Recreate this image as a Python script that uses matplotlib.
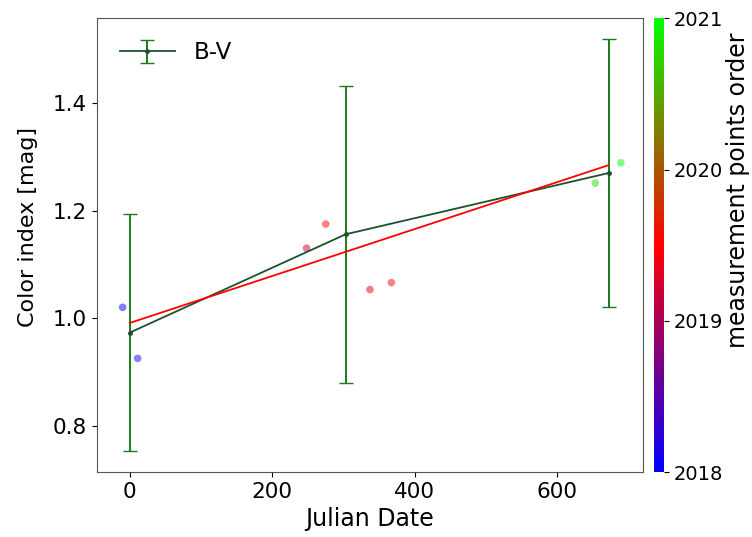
import numpy as np
import matplotlib
matplotlib.use("Agg")
import matplotlib.pyplot as plt

# Error-bar series (B-V)
bv_x = [0, 303, 672]
bv_y = [0.973, 1.156, 1.270]
bv_err = [0.22, 0.276, 0.249]

# Individual measurement points
pts_x = [-10, 11, 248, 275, 337, 367, 653, 689]
pts_y = [1.020, 0.925, 1.130, 1.175, 1.053, 1.066, 1.251, 1.289]
pts_order = [2018.0, 2018.1, 2019.2, 2019.5, 2019.4, 2019.45, 2020.85, 2021.0]

cbar_ticks = [2018, 2019, 2020, 2021]

fig = plt.figure(figsize=(7.52, 5.37), dpi=100)
ax = fig.add_axes([0.129, 0.121, 0.726, 0.845])
cax = fig.add_axes([0.870, 0.121, 0.0133, 0.845])

sc = ax.scatter(pts_x, pts_y, c=pts_order, cmap='brg', vmin=2018, vmax=2021,
                s=30, alpha=0.5, edgecolors='none', zorder=2)

cont = ax.errorbar(bv_x, bv_y, yerr=bv_err, fmt='-o', color='#1e5030', ecolor='#1a7a1a',
                   markersize=2.5, capsize=5, lw=1.3, elinewidth=1.4, label='B-V', zorder=3)
for cap in cont[1]:
    cap.set_color('#444444')

coef = np.polyfit(bv_x, bv_y, 1)
fx = np.array([bv_x[0], bv_x[-1]])
ax.plot(fx, np.polyval(coef, fx), color='red', lw=1.3, zorder=4)

ax.set_xlim(-46, 720)
ax.set_ylim(0.7135, 1.558)
ax.set_xticks([0, 200, 400, 600])
ax.set_yticks([0.8, 1.0, 1.2, 1.4])
ax.tick_params(labelsize=15.5)
ax.set_xlabel('Julian Date', fontsize=17)
ax.set_ylabel('Color index [mag]', fontsize=16)
ax.yaxis.set_label_coords(-0.108, 0.54)
for s in ax.spines.values():
    s.set_color('#555555')
ax.legend(loc='upper left', fontsize=16.5, frameon=False, handlelength=2.4,
          borderaxespad=0.6)

cb = fig.colorbar(sc, cax=cax)
cb.solids.set_alpha(1)
cb.set_ticks(cbar_ticks)
cb.ax.tick_params(labelsize=14)
cb.set_label('measurement points order', fontsize=17)
cb.ax.yaxis.set_label_coords(7.2, 0.62)
cb.outline.set_visible(False)

fig.savefig('out.png', dpi=100)
